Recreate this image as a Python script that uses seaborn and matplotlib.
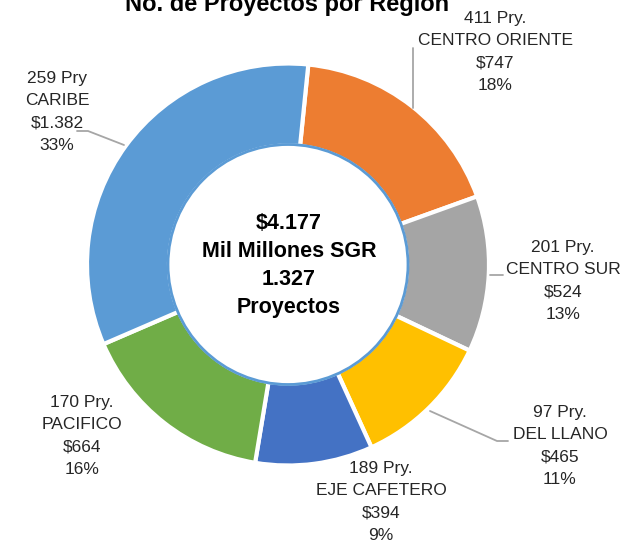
import matplotlib
matplotlib.use("Agg")
import matplotlib.pyplot as plt
import seaborn as sns
from matplotlib.patches import Circle

regions = ["CENTRO ORIENTE", "CENTRO SUR", "DEL LLANO", "EJE CAFETERO", "PACIFICO", "CARIBE"]
proyectos = [411, 201, 97, 189, 170, 259]
montos = [747, 524, 465, 394, 664, 1382]
porcentajes = [18, 13, 11, 9, 16, 33]
pry_suffix = ["Pry.", "Pry.", "Pry.", "Pry.", "Pry.", "Pry"]
colores = ["#ED7D31", "#A5A5A5", "#FFC000", "#4472C4", "#70AD47", "#5B9BD5"]
titulo = "No. de Proyectos por Región"
centro = ["$4.177", "Mil Millones SGR", "1.327", "Proyectos"]

sns.set_theme(style="white")
plt.rcParams['font.family'] = ['Liberation Sans', 'DejaVu Sans']

W, H = 640, 550
fig = plt.figure(figsize=(6.4, 5.5), dpi=100)
ax = fig.add_axes([0, 0, 1, 1])

cx, cy = 288, H - 264.5
R, r_in = 201, 119
palette = sns.color_palette(colores)
ax.pie(montos, colors=palette, startangle=84.2, counterclock=False,
       center=(cx, cy), radius=R, frame=True,
       wedgeprops=dict(width=R - r_in, edgecolor="white", linewidth=3))
ax.set_xlim(0, W)
ax.set_ylim(0, H)
ax.set_aspect("equal")
ax.axis("off")
ax.add_patch(Circle((cx, cy), r_in + 1, facecolor="white", edgecolor="#5B9BD5", linewidth=2, zorder=5))

ax.text(cx + 1, cy - 1, "\n".join(centro), ha="center", va="center", fontsize=15.5,
        fontweight="bold", linespacing=1.42, zorder=6, color="black")

fig.text(287 / W, 1 - 11 / H, titulo, ha="center", va="baseline", fontsize=17,
         fontweight="bold", color="black")


def fmt_miles(v):
    return f"{v:,}".replace(",", ".")


label_pos = [(495, 52), (563, 281), (560, 446), (381, 502), (82, 436), (57, 112)]
for i in range(len(regions)):
    txt = f"{proyectos[i]} {pry_suffix[i]}\n{regions[i]}\n${fmt_miles(montos[i])}\n{porcentajes[i]}%"
    x, y = label_pos[i]
    ax.text(x, H - y, txt, ha="center", va="center", fontsize=12.5, color="#262626",
            linespacing=1.6, zorder=6)

lc = "#A6A6A6"
leaders = [
    [(413, 48), (413, 108)],
    [(490, 275), (503, 275)],
    [(430, 411), (497, 441), (508, 441)],
    [(77, 131), (88, 131), (124, 145)],
]
for pts in leaders:
    xs = [p[0] for p in pts]
    ys = [H - p[1] for p in pts]
    ax.plot(xs, ys, color=lc, linewidth=1.3, zorder=4)

fig.savefig("out.png", dpi=100)
